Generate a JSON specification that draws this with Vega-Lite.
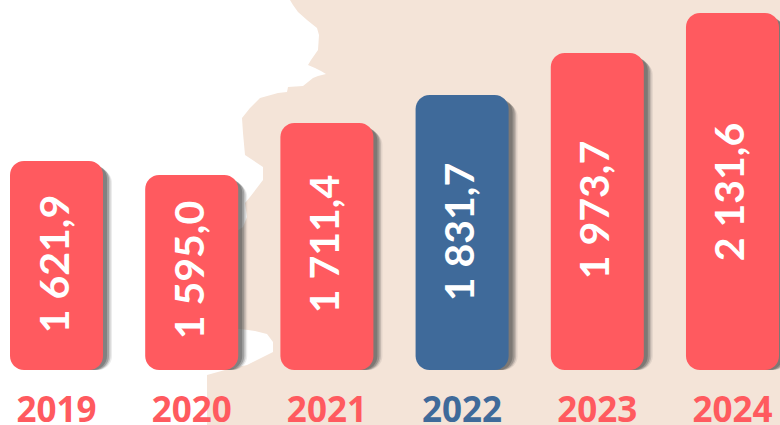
{"$schema":"https://vega.github.io/schema/vega-lite/v6.json","width":780,"height":425,"padding":0,"autosize":{"type":"none"},"background":"#ffffff","config":{"view":{"stroke":null}},"datasets":{"bars":[{"year":"2019","value":1621.9,"label":"1 621,9","highlight":"no"},{"year":"2020","value":1595.0,"label":"1 595,0","highlight":"no"},{"year":"2021","value":1711.4,"label":"1 711,4","highlight":"no"},{"year":"2022","value":1831.7,"label":"1 831,7","highlight":"yes"},{"year":"2023","value":1973.7,"label":"1 973,7","highlight":"no"},{"year":"2024","value":2131.6,"label":"2 131,6","highlight":"no"}],"land":[{"lat":0,"lon":290},{"lat":5,"lon":293},{"lat":12,"lon":298},{"lat":20,"lon":307},{"lat":28,"lon":317},{"lat":35,"lon":319},{"lat":50,"lon":318},{"lat":60,"lon":311},{"lat":65,"lon":308},{"lat":68,"lon":315},{"lat":71,"lon":321},{"lat":74,"lon":326},{"lat":76,"lon":318},{"lat":78,"lon":313},{"lat":86,"lon":303},{"lat":87,"lon":288},{"lat":92,"lon":287},{"lat":93,"lon":278},{"lat":98,"lon":260},{"lat":108,"lon":250},{"lat":118,"lon":242},{"lat":133,"lon":243},{"lat":155,"lon":245},{"lat":167,"lon":263},{"lat":180,"lon":263},{"lat":197,"lon":250},{"lat":203,"lon":245},{"lat":217,"lon":247},{"lat":227,"lon":243},{"lat":235,"lon":230},{"lat":328,"lon":230},{"lat":330,"lon":248},{"lat":331,"lon":255},{"lat":334,"lon":267},{"lat":342,"lon":273},{"lat":352,"lon":273},{"lat":362,"lon":253},{"lat":365,"lon":247},{"lat":370,"lon":225},{"lat":375,"lon":207},{"lat":425,"lon":207}]},"resolve":{"scale":{"x":"independent","y":"independent"}},"layer":[{"data":{"name":"land"},"mark":{"type":"area","orient":"horizontal","color":"#f4e4d8","interpolate":"linear"},"encoding":{"y":{"field":"lat","type":"quantitative","scale":{"domain":[0,425],"range":[0,425]},"axis":null},"x":{"field":"lon","type":"quantitative","scale":{"domain":[0,780],"range":[0,780]},"axis":null},"x2":{"datum":780}}},{"data":{"name":"bars"},"mark":{"type":"bar","cornerRadius":14,"color":"#444444","opacity":0.1,"xOffset":9,"yOffset":8},"encoding":{"x":{"field":"year","type":"nominal","scale":{"type":"band","range":[10,779],"paddingInner":0.312,"paddingOuter":0},"axis":null},"y":{"field":"value","type":"quantitative","scale":{"domain":[0,1595,1621.9,1711.4,1831.7,1973.7,2131.6],"range":[370,175,161,123,95,53,13]},"axis":null},"y2":{"datum":0}}},{"data":{"name":"bars"},"mark":{"type":"bar","cornerRadius":14,"color":"#444444","opacity":0.2,"xOffset":7.5,"yOffset":6.5},"encoding":{"x":{"field":"year","type":"nominal","scale":{"type":"band","range":[10,779],"paddingInner":0.312,"paddingOuter":0},"axis":null},"y":{"field":"value","type":"quantitative","scale":{"domain":[0,1595,1621.9,1711.4,1831.7,1973.7,2131.6],"range":[370,175,161,123,95,53,13]},"axis":null},"y2":{"datum":0}}},{"data":{"name":"bars"},"mark":{"type":"bar","cornerRadius":14,"color":"#444444","opacity":0.3,"xOffset":6,"yOffset":5},"encoding":{"x":{"field":"year","type":"nominal","scale":{"type":"band","range":[10,779],"paddingInner":0.312,"paddingOuter":0},"axis":null},"y":{"field":"value","type":"quantitative","scale":{"domain":[0,1595,1621.9,1711.4,1831.7,1973.7,2131.6],"range":[370,175,161,123,95,53,13]},"axis":null},"y2":{"datum":0}}},{"data":{"name":"bars"},"mark":{"type":"bar","cornerRadius":14,"color":"#444444","opacity":0.35,"xOffset":4,"yOffset":3.5},"encoding":{"x":{"field":"year","type":"nominal","scale":{"type":"band","range":[10,779],"paddingInner":0.312,"paddingOuter":0},"axis":null},"y":{"field":"value","type":"quantitative","scale":{"domain":[0,1595,1621.9,1711.4,1831.7,1973.7,2131.6],"range":[370,175,161,123,95,53,13]},"axis":null},"y2":{"datum":0}}},{"data":{"name":"bars"},"mark":{"type":"bar","cornerRadius":14},"encoding":{"x":{"field":"year","type":"nominal","scale":{"type":"band","range":[10,779],"paddingInner":0.312,"paddingOuter":0},"axis":{"title":null,"zindex":1,"domain":false,"ticks":false,"labelAngle":0,"labelPadding":-32,"labelFont":"Open Sans","labelFontWeight":"bold","labelFontSize":35,"labelBaseline":"top","labelColor":{"expr":"datum.value=='2022'?'#3f6a9a':'#ff5a5f'"}}},"y":{"field":"value","type":"quantitative","scale":{"domain":[0,1595,1621.9,1711.4,1831.7,1973.7,2131.6],"range":[370,175,161,123,95,53,13]},"axis":null},"y2":{"datum":0},"color":{"field":"highlight","type":"nominal","scale":{"domain":["no","yes"],"range":["#ff5a5f","#3f6a9a"]},"legend":null}}},{"data":{"name":"bars"},"mark":{"type":"text","angle":270,"align":"center","baseline":"middle","font":"Lato","fontWeight":"bold","fontSize":41,"color":"#ffffff"},"encoding":{"x":{"field":"year","type":"nominal","scale":{"type":"band","range":[10,779],"paddingInner":0.312,"paddingOuter":0},"axis":null},"y":{"field":"value","type":"quantitative","scale":{"domain":[0,1595,1621.9,1711.4,1831.7,1973.7,2131.6],"range":[370,270,264,244,232,210,192]},"axis":null},"text":{"field":"label"}}}]}
